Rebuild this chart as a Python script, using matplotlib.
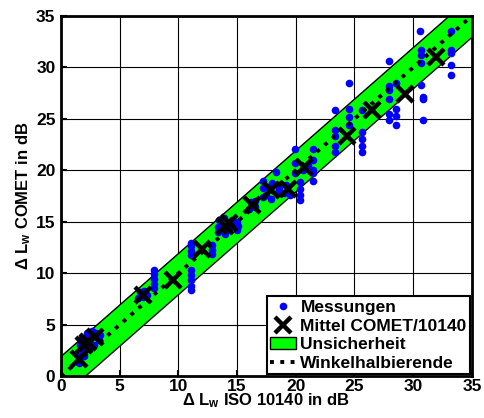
import matplotlib
matplotlib.use("Agg")
import matplotlib.pyplot as plt
import numpy as np

plt.rcParams['font.family'] = 'Liberation Sans'
plt.rcParams['font.weight'] = 'bold'
plt.rcParams['axes.labelweight'] = 'bold'
plt.rcParams['mathtext.fontset'] = 'custom'
plt.rcParams['mathtext.rm'] = 'Liberation Sans:bold'
plt.rcParams['mathtext.it'] = 'Liberation Sans:bold'
plt.rcParams['mathtext.bf'] = 'Liberation Sans:bold'

# Messungen (ISO 10140, COMET)
mess_x = [1.5, 1.5, 1.6, 1.7, 1.9, 2.0, 1.8, 2.1, 2.2, 2.4, 2.5, 2.6, 2.7, 2.8, 3.0, 3.1, 3.2, 3.3,
          6.6, 6.7, 7.0, 7.1, 7.3,
          7.9, 7.9, 7.9, 7.9, 7.9,
          11.1, 11.1, 11.1, 11.1, 11.1, 11.1, 11.1, 11.1, 11.1,
          12.9, 12.9, 12.9,
          13.4, 13.4, 13.5, 13.9, 14.0, 14.3, 14.6, 15.0, 15.0, 15.1,
          16.0, 16.2, 16.5, 16.5,
          17.2, 17.2, 17.2, 17.5, 17.6, 17.9, 18.0, 18.3, 18.4, 18.6, 19.0, 19.2, 19.5,
          19.9, 19.9, 19.9, 20.4, 20.4, 20.4, 20.4, 20.6, 21.0,
          21.5, 21.5, 21.5, 21.5, 21.5,
          23.3, 23.3, 23.3, 23.3, 23.3,
          24.5, 24.5, 24.5, 24.5,
          25.6, 25.6, 25.6, 25.6, 25.6,
          27.9, 27.9, 27.9, 27.9, 27.9, 27.9,
          28.5, 28.5, 28.5, 28.5,
          30.6, 30.7, 30.7, 30.7, 30.7, 30.8, 30.8, 30.8,
          33.2, 33.2, 33.2, 33.2, 33.2]
mess_y = [1.3, 2.0, 3.0, 3.6, 2.4, 2.0, 3.2, 3.6, 4.2, 2.6, 3.8, 4.4, 4.0, 3.0, 4.2, 3.8, 3.5, 4.0,
          7.6, 8.2, 7.7, 8.3, 7.9,
          8.6, 9.0, 9.4, 9.9, 10.3,
          8.4, 8.8, 9.3, 9.8, 10.3, 11.8, 12.2, 12.6, 12.9,
          11.9, 12.3, 12.7,
          14.0, 14.5, 15.2, 15.4, 13.8, 14.3, 15.0, 14.2, 15.0, 14.6,
          16.2, 16.9, 16.4, 17.0,
          17.4, 18.3, 19.0, 17.6, 18.4, 17.2, 18.8, 19.8, 17.8, 18.3, 17.8, 18.6, 17.6,
          19.7, 20.7, 22.1, 18.9, 18.2, 17.6, 17.1, 20.0, 20.5,
          22.1, 21.0, 20.0, 19.7, 19.0,
          25.9, 23.9, 23.3, 22.4, 21.8,
          28.5, 26.0, 25.2, 24.4,
          25.9, 23.7, 23.0, 22.4, 21.8,
          30.6, 28.2, 27.8, 26.9, 25.5, 24.9,
          28.5, 26.0, 25.3, 24.4,
          33.5, 31.7, 31.2, 30.4, 28.3, 27.1, 26.9, 24.9,
          33.5, 31.7, 31.4, 30.2, 29.3]

# Mittel COMET/10140
mittel_x = [1.5, 2.0, 2.3, 2.9, 7.0, 9.5, 12.0, 14.0, 14.3, 16.3, 17.9, 19.3, 20.7, 24.4, 26.5, 29.3, 31.9]
mittel_y = [1.7, 3.0, 3.3, 3.8, 7.9, 9.3, 12.4, 14.6, 14.9, 16.6, 18.1, 18.2, 20.3, 23.3, 25.9, 27.4, 31.0]

# Unsicherheit +/- 2 dB um die Winkelhalbierende
unsicherheit = 2.0
achse = np.array([0, 35])

fig = plt.figure(figsize=(4.84, 4.18), dpi=100)
ax = fig.add_axes([0.126, 0.100, 0.849, 0.862])

ax.fill_between(achse, achse - unsicherheit, achse + unsicherheit,
                facecolor='#00ff00', edgecolor='black', linewidth=1.0, zorder=2,
                label='Unsicherheit')
ax.plot(mess_x, mess_y, 'o', color='#0000ff', markersize=5.5, markeredgewidth=0,
        zorder=3, label='Messungen')
ax.plot(mittel_x, mittel_y, 'x', color='black', markersize=11, markeredgewidth=3.2,
        zorder=4, label='Mittel COMET/10140', linestyle='none')
ax.plot(achse, achse, ':', color='black', linewidth=2.8, zorder=5,
        label='Winkelhalbierende')

ax.set_xlim(0, 35)
ax.set_ylim(0, 35)
ax.set_xticks(range(0, 36, 5))
ax.set_yticks(range(0, 36, 5))
ax.set_xticklabels([str(v) for v in range(0, 36, 5)], fontweight='bold', fontsize=12.5)
ax.set_yticklabels([str(v) for v in range(0, 36, 5)], fontweight='bold', fontsize=12.5)
ax.tick_params(direction='in', length=4, width=1.5)
ax.tick_params(axis='x', pad=2)
ax.tick_params(axis='y', pad=4)
ax.grid(True, color='black', linestyle='-', linewidth=0.8)
ax.set_axisbelow(True)
for s in ax.spines.values():
    s.set_linewidth(2)

ax.set_xlabel(r'Δ L$_{\mathrm{w}}$ ISO 10140 in dB', fontsize=12, fontweight='bold', labelpad=-2)
ax.set_ylabel(r'Δ L$_{\mathrm{w}}$ COMET in dB', fontsize=12, fontweight='bold', labelpad=2)

h, l = ax.get_legend_handles_labels()
order = [1, 2, 0, 3]
leg = ax.legend([h[i] for i in order], [l[i] for i in order], loc='lower right',
                prop={'family': 'Liberation Sans', 'size': 12.5, 'weight': 'bold'},
                fancybox=False, framealpha=1, edgecolor='black', borderpad=0.2,
                labelspacing=0.2, handlelength=1.5, handletextpad=0.25, borderaxespad=0.1)
leg.get_frame().set_linewidth(1.5)

plt.savefig('out.png', dpi=100)
